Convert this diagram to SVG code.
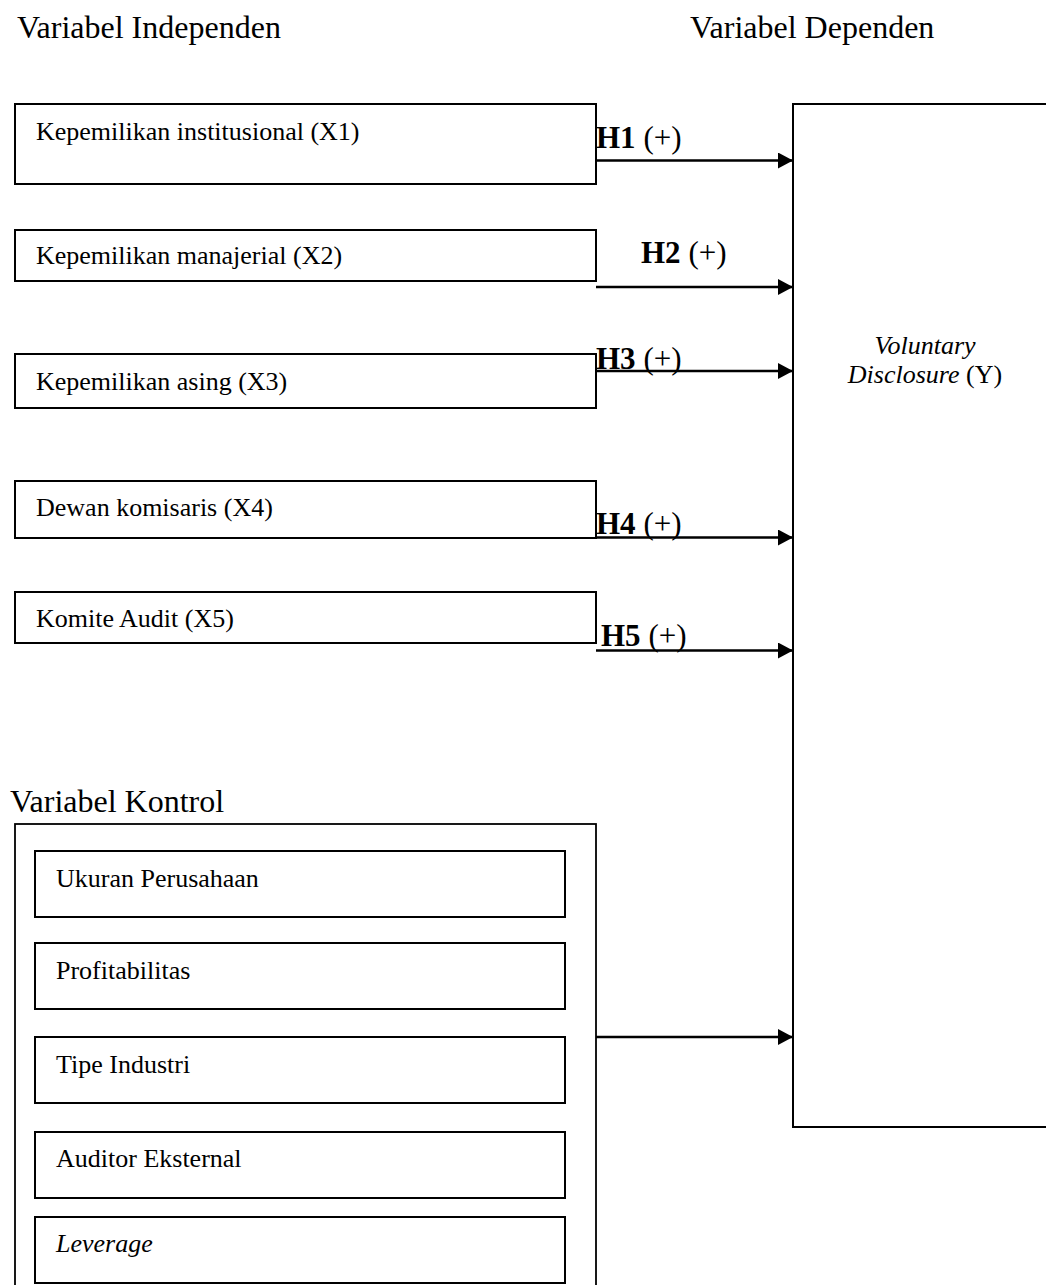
<svg xmlns="http://www.w3.org/2000/svg" width="1046" height="1285" viewBox="0 0 1046 1285">
<style>
text{font-family:"Liberation Serif","Times New Roman",serif;fill:#000}
.hd{font-size:32px}
.bx{font-size:26px}
.hl{font-size:31px}
.b{font-weight:bold}
.it{font-style:italic}
.box{fill:#fff;stroke:#000;stroke-width:2}
.outer{fill:none;stroke:#000;stroke-width:1.8}
.conn{stroke:#000;stroke-width:2.6;fill:none;marker-end:url(#ah)}
</style>
<defs>
<marker id="ah" markerUnits="userSpaceOnUse" markerWidth="16" markerHeight="17" refX="15" refY="8" orient="auto">
<path d="M0,0 L15,8 L0,16 z" fill="#000"/>
</marker>
</defs>
<rect width="1046" height="1285" fill="#fff"/>
<text class="hd" x="17" y="38">Variabel Independen</text>
<text class="hd" x="690" y="38">Variabel Dependen</text>
<text class="hd" x="10" y="812">Variabel Kontrol</text>

<g id="Y">
<rect class="box" x="793" y="104" width="270" height="1023"/>
<text class="bx it" x="925" y="354" text-anchor="middle">Voluntary</text>
<text class="bx" x="925" y="383" text-anchor="middle"><tspan class="it">Disclosure</tspan> (Y)</text>
</g>

<g id="X1"><rect class="box" x="15" y="104" width="581" height="80"/><text class="bx" x="36" y="140">Kepemilikan institusional (X1)</text></g>
<g id="X2"><rect class="box" x="15" y="230" width="581" height="51"/><text class="bx" x="36" y="264">Kepemilikan manajerial (X2)</text></g>
<g id="X3"><rect class="box" x="15" y="354" width="581" height="54"/><text class="bx" x="36" y="390">Kepemilikan asing (X3)</text></g>
<g id="X4"><rect class="box" x="15" y="481" width="581" height="57"/><text class="bx" x="36" y="516">Dewan komisaris (X4)</text></g>
<g id="X5"><rect class="box" x="15" y="592" width="581" height="51"/><text class="bx" x="36" y="627">Komite Audit (X5)</text></g>

<g id="kontrol">
<rect class="outer" x="15" y="824" width="581" height="480"/>
<g id="ukuran"><rect class="box" x="35" y="851" width="530" height="66"/><text class="bx" x="56" y="887">Ukuran Perusahaan</text></g>
<g id="profit"><rect class="box" x="35" y="943" width="530" height="66"/><text class="bx" x="56" y="979">Profitabilitas</text></g>
<g id="tipe"><rect class="box" x="35" y="1037" width="530" height="66"/><text class="bx" x="56" y="1073">Tipe Industri</text></g>
<g id="auditor"><rect class="box" x="35" y="1132" width="530" height="66"/><text class="bx" x="56" y="1167">Auditor Eksternal</text></g>
<g id="leverage"><rect class="box" x="35" y="1217" width="530" height="66"/><text class="bx it" x="56" y="1252">Leverage</text></g>
</g>

<g id="connectors">
<line class="conn" x1="596" y1="160.5" x2="793" y2="160.5"/>
<line class="conn" x1="596" y1="287" x2="793" y2="287"/>
<line class="conn" x1="596" y1="371" x2="793" y2="371"/>
<line class="conn" x1="596" y1="537.5" x2="793" y2="537.5"/>
<line class="conn" x1="596" y1="650.5" x2="793" y2="650.5"/>
<line class="conn" x1="596" y1="1037" x2="793" y2="1037"/>
<text class="hl" x="596" y="148"><tspan class="b">H1</tspan> (+)</text>
<text class="hl" x="641" y="263"><tspan class="b">H2</tspan> (+)</text>
<text class="hl" x="596" y="369"><tspan class="b">H3</tspan> (+)</text>
<text class="hl" x="596" y="534"><tspan class="b">H4</tspan> (+)</text>
<text class="hl" x="601" y="646"><tspan class="b">H5</tspan> (+)</text>
</g>
</svg>
